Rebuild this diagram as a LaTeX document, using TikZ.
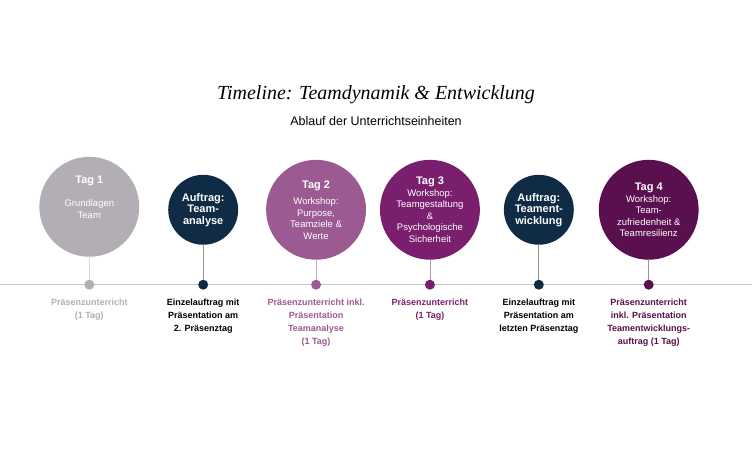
\documentclass[tikz,border=0pt]{standalone}
\usepackage{fontspec}
\setmainfont{Liberation Sans}
\newfontfamily\serifit{Liberation Serif}
\definecolor{cgrey}{HTML}{B3AEB5}
\definecolor{cnavy}{HTML}{0F2B45}
\definecolor{clpur}{HTML}{9B5A92}
\definecolor{cpur}{HTML}{7A1F6E}
\definecolor{cdpur}{HTML}{5A0F4E}
\newcommand{\tagh}[1]{{\bfseries\fontsize{11}{13}\selectfont #1}}
\begin{document}
\begin{tikzpicture}[x=1pt,y=-1pt,
  circ/.style={circle,fill=#1,text=white,align=center,inner sep=0pt,font=\fontsize{9.5}{11.5}\selectfont},
  dot/.style={circle,fill=#1,inner sep=0pt,minimum size=10pt},
  lab/.style={text=#1,align=center,font=\bfseries\fontsize{9}{13}\selectfont,anchor=north}]
\fill[white] (0,0) rectangle (752,450);
\node[font=\serifit\itshape\fontsize{20}{24}\selectfont] (title) at (376,95) {Timeline: Teamdynamik \& Entwicklung};
\node[font=\fontsize{12.5}{14}\selectfont] (sub) at (376,121) {Ablauf der Unterrichtseinheiten};
\coordinate (l) at (0,285); \coordinate (r) at (752,285);
\draw[cgrey!70,line width=0.8pt] (l) -- (r);
\foreach \n/\x/\y/\rr/\c in {1/89/207/100/cgrey,2/203/210/70/cnavy,3/316/210/100/clpur,4/430/210/100/cpur,5/539/210/70/cnavy,6/649/210/100/cdpur}{
  \node[dot=\c] (d\n) at (\x,285) {};
  \node[circ=\c,minimum size=\rr pt] (c\n) at (\x,\y) {};
  \draw[\c!50,line width=0.8pt] (c\n.south) -- (d\n.north);
}
\node[circ=cgrey,align=center] at (c1) {\tagh{Tag 1}\\[12pt]Grundlagen\\Team\\[8pt]};
\node[circ=cnavy] at (c2) {\tagh{Auftrag:}\\\tagh{Team-}\\\tagh{analyse}};
\node[circ=clpur] at (c3) {\tagh{Tag 2}\\[5pt]Workshop:\\Purpose,\\Teamziele \&\\Werte};
\node[circ=cpur] at (c4) {\tagh{Tag 3}\\Workshop:\\Teamgestaltung\\\&\\Psychologische\\Sicherheit};
\node[circ=cnavy] at (c5) {\tagh{Auftrag:}\\\tagh{Teament-}\\\tagh{wicklung}};
\node[circ=cdpur] at (c6) {\tagh{Tag 4}\\Workshop:\\Team-\\zufriedenheit \&\\Teamresilienz};
\node[lab=cgrey] (t1) at (89,296) {Präsenzunterricht\\(1 Tag)};
\node[lab=black] (t2) at (203,296) {Einzelauftrag mit\\Präsentation am\\2. Präsenztag};
\node[lab=clpur] (t3) at (316,296) {Präsenzunterricht inkl.\\Präsentation\\Teamanalyse\\(1 Tag)};
\node[lab=cpur] (t4) at (430,296) {Präsenzunterricht\\(1 Tag)};
\node[lab=black] (t5) at (539,296) {Einzelauftrag mit\\Präsentation am\\letzten Präsenztag};
\node[lab=cdpur] (t6) at (649,296) {Präsenzunterricht\\inkl. Präsentation\\Teamentwicklungs-\\auftrag (1 Tag)};
\end{tikzpicture}
\end{document}
